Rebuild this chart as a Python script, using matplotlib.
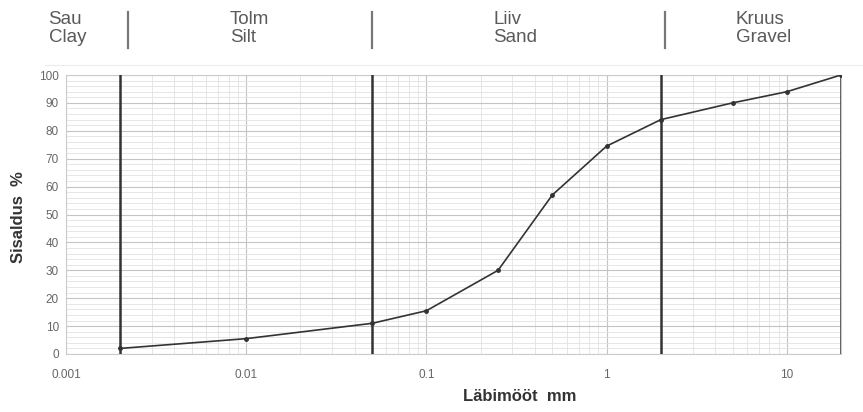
import matplotlib
matplotlib.use('Agg')
import matplotlib.pyplot as plt
from matplotlib.ticker import FixedLocator, FixedFormatter, MultipleLocator, LogLocator, NullFormatter
import matplotlib.transforms as mtransforms

plt.rcParams['font.family'] = ['Liberation Sans', 'DejaVu Sans']

# grain size (mm) and cumulative content (%)
diameter = [0.002, 0.01, 0.05, 0.1, 0.25, 0.5, 1, 2, 5, 10, 20]
passing = [2, 5.5, 11, 15.5, 30, 57, 74.5, 84, 90, 94, 100]

# fraction boundaries (mm) and header labels
boundaries = [0.002, 0.05, 2, 20]
separators = [0.0022, 0.05, 2.1]
fraction_names = ['Sau\nClay', 'Tolm\nSilt', 'Liiv\nSand', 'Kruus\nGravel']
fraction_pos = [0.0008, 0.0081, 0.235, 5.2]

xticks = [0.001, 0.01, 0.1, 1, 10]
xtick_labels = ['0.001', '0.01', '0.1', '1', '10']
yticks = list(range(0, 101, 10))

fig = plt.figure(figsize=(8.63, 4.12), dpi=100)
ax = fig.add_axes([66 / 863, 58 / 412, 775 / 863, 279 / 412])

ax.set_xscale('log')
ax.set_xlim(0.001, 20)
ax.set_ylim(0, 100)

# grid
ax.xaxis.set_major_locator(FixedLocator(xticks))
ax.xaxis.set_major_formatter(FixedFormatter(xtick_labels))
ax.xaxis.set_minor_locator(LogLocator(base=10, subs=range(2, 10)))
ax.xaxis.set_minor_formatter(NullFormatter())
ax.yaxis.set_major_locator(FixedLocator(yticks))
ax.yaxis.set_minor_locator(MultipleLocator(2))
ax.grid(which='major', color='#c4c4c4', lw=0.8)
ax.grid(which='minor', color='#e2e2e2', lw=0.6)
ax.set_axisbelow(True)
ax.tick_params(which='both', length=0, labelsize=8.5, colors='#666666')
ax.tick_params(axis='x', pad=11)
ax.tick_params(axis='y', pad=5)
for s in ax.spines.values():
    s.set_color('#cccccc')
    s.set_linewidth(0.8)

# fraction boundaries
for b in boundaries:
    ax.axvline(b, color='#333333', lw=1.8, zorder=3)

# curve
ax.plot(diameter, passing, color='#333333', lw=1.2, marker='o', ms=2.5, zorder=4)

# header
trans = mtransforms.blended_transform_factory(ax.transData, fig.transFigure)
for name, xp in zip(fraction_names, fraction_pos):
    ax.text(xp, 1 - 11 / 412, name, transform=trans, ha='left', va='top',
            fontsize=13.5, color='#5a5a5a', linespacing=1.1, clip_on=False)
for sx in separators:
    ax.plot([sx, sx], [1 - 12 / 412, 1 - 48 / 412], transform=trans, color='#777777',
            lw=1.6, clip_on=False)
fig.add_artist(plt.Line2D([45 / 863, 1], [1 - 65 / 412, 1 - 65 / 412],
                          color='#ececec', lw=0.8))

ax.set_ylabel('Sisaldus  %', fontsize=12, fontweight='bold', color='#333333')
ax.yaxis.set_label_coords(-40 / 775, 0.49)
ax.set_xlabel('Läbimööt  mm', fontsize=12, fontweight='bold', color='#333333')
ax.xaxis.set_label_coords(0.585, -0.125)

fig.savefig('out.png', dpi=100)
